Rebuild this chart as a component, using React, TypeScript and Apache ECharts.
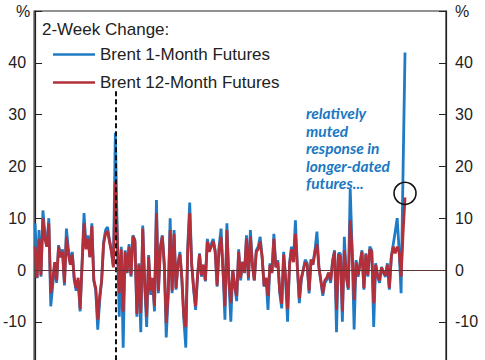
import React, { useEffect, useRef } from "react";
import * as echarts from "echarts";

const brent1M: number[] = [
  9, -1.6, 7.7, -1.3, 11.5, 7, 4.5, 10, -7, -3, 1.3, -2.5, 4.8, 2.5, 4, -3, 8, 4, 1.3, 3.5,
  -2, -4, -2, -8, 1.3, 11, 4.5, 6.7, 2.5, 9, -2, -4, -11.5, -6, -2, 5.4, 7.7, 8.3, 5.8, 3.8,
  0.6, 26.5, 6.4, -9, 4.5, -15,
  3.8, -0.6, 5, -1.3, 6.7, 5.8, -9, 1.3, -12, 8.6, -3, -11, 2.9, -4.8, -2, -8, 13.5, -4.5, 4.5, 6.7,
  1.3, -13, -5, 10, -4.5, 7.7, -3.8, 1.3, 3.5, -2, -9.6, -15, 4.5, 13, 1.3, -3.8, -7.7, -1.3, 3.2, -1.3,
  1, -2.2, 6, 3.8, 5,
  6, 3.8, -3.2, 4.5, 8, 0, -9.6, 9, -2, -10, 0, -3.2, -6, 4, -2, 1.6, -0.6, 6.7, -2, 7.7,
  1.3, -2, 3.8, 4.5, 6.4, 2.5, -3.2, -1.6, -7.7, 1.3, -0.6, 7, 0.6, 1.9, -4.5, -7.4, 3.5, -2, -10, 1.3,
  4.5, 1.6, 9.6, 0.6, -6.4, -2,
  0, 2, 1.3, -4.5, 2, 1.3, 3.8, 7.4, 0.6, -2.2, -5, -2.5, -1.9, -0.6, -2.5, 1.9, 3.8, -12, 3.2, 3.2,
  -10, 6.4, -1.3, -3.8, 15.7, 3.8, -11.5, 1.9, -1.3, 1.3, 3.8, -3.8, 3.2, -1.3, 4.5, 3.8, -11, 1.3, -1.3, -2.5,
  0.6, -0.6, -1.3, 1.3, -3.8, 2.5, 5, 7.4, 10, 3.8, -4.5, 19, 42,
];

const brent12M: number[] = [
  4.5, -1.5, 6, -1, 10, 6, 4.5, 9, -4.5, -2, 1.5, -2, 4.5, 2.5, 3.5, -2.5, 6.4, 3, 1, 3,
  -1.5, -3.5, -1.5, -7.5, 1, 9, 4, 6, 2.5, 8.5, -2, -3.5, -9.6, -5, -2, 5, 7, 7.5, 5.5, 3.5,
  0.5, 17, 6, -4.5, 4, -8,
  3.5, -0.5, 4.5, -1, 6.5, 5.5, -8.5, 1, -8.3, 8, -2.5, -9, 2.5, -4, -1.5, -7, 11, -4, 4, 6.5,
  1, -10.2, -4.5, 7.7, -4, 7, -3.5, 1, 3, -1.5, -9, -11, 4, 11, 1, -3.5, -7, -1, 3, -1,
  1, -2, 5.5, 3.5, 4.5,
  5.5, 3.5, -3, 4, 6.4, 0, -7, 7.7, -2, -6.4, 0, -3, -5, 3.5, -1.5, 1.5, -0.5, 6, -1.5, 6.5,
  1, -2, 3.5, 4, 5.5, 2.5, -3, -1.5, -5, 1, -0.5, 6, 0.5, 1.5, -4, -6.5, 3, -1.5, -7.5, 1,
  4, 1.5, 7, 0.5, -5.5, -1.5,
  0, 1.5, 1, -4, 2, 1, 3.5, 5, 0.5, -2, -4.5, -2, -1.5, -0.5, -2, 1.5, 3.5, -7.7, 3, 2.5,
  -8, 3.8, -1, -3.5, 9.6, 3.5, -5.8, 1.5, -1, 1, 3.5, -3.5, 3, -1, 4, 3.5, -6.4, 1, -1, -2,
  0.5, -0.5, -1, 1, -3.5, 2.5, 4.5, 3.2, 4.5, 3.5, -1.3, 7, 14,
];

const seriesNames = ["Brent 1-Month Futures", "Brent 12-Month Futures"];
const yTicks = [-20, -10, 0, 10, 20, 30, 40, 50];
const shownTicks = [-10, 0, 10, 20, 30, 40];
const spikeIndex = 41;
const circleValue = 14.8;
const annotation = ["relatively", "muted", "response in", "longer-dated", "futures..."];

const BLUE = "#1f7cc4";
const RED = "#b3303b";
const FONT = "'Liberation Sans', Arial, sans-serif";

export default function App() {
  const ref = useRef<HTMLDivElement>(null);
  useEffect(() => {
    if (!ref.current) return;
    const chart = echarts.init(ref.current, null, { renderer: "svg" });
    const lastIdx = brent1M.length - 1;
    // data spans ~90% of the plot width, leaving empty space on the right
    const xMax = (lastIdx + 0.5) * (412 / 371) - 0.5;
    const yLabel = {
      fontSize: 16,
      color: "#222",
      fontFamily: FONT,
      formatter: (v: number) => (shownTicks.includes(v) ? String(v) : ""),
    };
    const axisCommon = {
      type: "value" as const,
      min: yTicks[0],
      max: yTicks[yTicks.length - 1],
      interval: 10,
      splitLine: { show: false },
      axisLine: { show: true, lineStyle: { color: "#222", width: 1.2 } },
      axisTick: { show: true, inside: true, length: 7, lineStyle: { color: "#222" } },
    };
    chart.setOption({
      animation: false,
      grid: {
        left: 34,
        right: 39,
        top: 11,
        bottom: 26.4,
        show: true,
        borderColor: "#222",
        borderWidth: 1.2,
        containLabel: false,
      },
      xAxis: {
        type: "value",
        min: -0.5,
        max: xMax,
        show: false,
      },
      yAxis: [
        { ...axisCommon, position: "left", axisLabel: { ...yLabel, margin: 8 } },
        { ...axisCommon, position: "right", axisLabel: { ...yLabel, margin: 9 } },
      ],
      legend: {
        orient: "vertical",
        left: 53,
        top: 46,
        padding: 0,
        itemGap: 11,
        itemWidth: 42,
        itemHeight: 2.5,
        icon: "rect",
        textStyle: { fontSize: 17, color: "#222", fontFamily: FONT },
        data: seriesNames,
      },
      series: [
        {
          name: seriesNames[0],
          type: "line",
          data: brent1M.map((v, i) => [i, v]),
          symbol: "none",
          lineStyle: { color: BLUE, width: 2.8 },
          itemStyle: { color: BLUE },
          z: 2,
          markLine: {
            silent: true,
            symbol: "none",
            label: { show: false },
            lineStyle: { color: "#111", type: [5, 3], width: 2 },
            data: [[{ coord: [spikeIndex, 34.5] }, { coord: [spikeIndex, -20] }]],
            z: 5,
          },
        },
        {
          name: seriesNames[1],
          type: "line",
          data: brent12M.map((v, i) => [i, v]),
          symbol: "none",
          lineStyle: { color: RED, width: 2.8 },
          itemStyle: { color: RED },
          z: 3,
          markLine: {
            silent: true,
            symbol: "none",
            label: { show: false },
            lineStyle: { color: "#5e3434", type: "solid", width: 1.2 },
            data: [{ yAxis: 0 }],
          },
          markPoint: {
            silent: true,
            symbol: "circle",
            symbolSize: 22,
            label: { show: false },
            itemStyle: { color: "rgba(0,0,0,0)", borderColor: "#111", borderWidth: 1.6 },
            data: [{ coord: [lastIdx, circleValue] }],
          },
        },
      ],
      graphic: [
        {
          type: "text",
          left: 42,
          top: 21,
          style: { text: "2-Week Change:", fontSize: 17, fill: "#222", fontFamily: FONT },
        },
        {
          type: "text",
          left: 16,
          top: 3,
          style: { text: "%", fontSize: 16, fill: "#222", fontFamily: FONT },
        },
        {
          type: "text",
          left: 455,
          top: 3,
          style: { text: "%", fontSize: 16, fill: "#222", fontFamily: FONT },
        },
        ...annotation.map((line, i) => ({
          type: "text",
          left: 306,
          top: 105 + i * 17.5,
          style: {
            text: line,
            fontSize: 15.5,
            fontWeight: "bold",
            fontStyle: "italic",
            fill: "#1a78c2",
            fontFamily: "Lato, 'Open Sans', sans-serif",
          },
        })),
      ],
    });
    return () => chart.dispose();
  }, []);
  return (
    <div style={{ position: "fixed", top: 0, left: 0, width: 485, height: 360, overflow: "hidden", background: "#fff" }}>
      <div ref={ref} style={{ width: 485, height: 400 }} />
    </div>
  );
}
